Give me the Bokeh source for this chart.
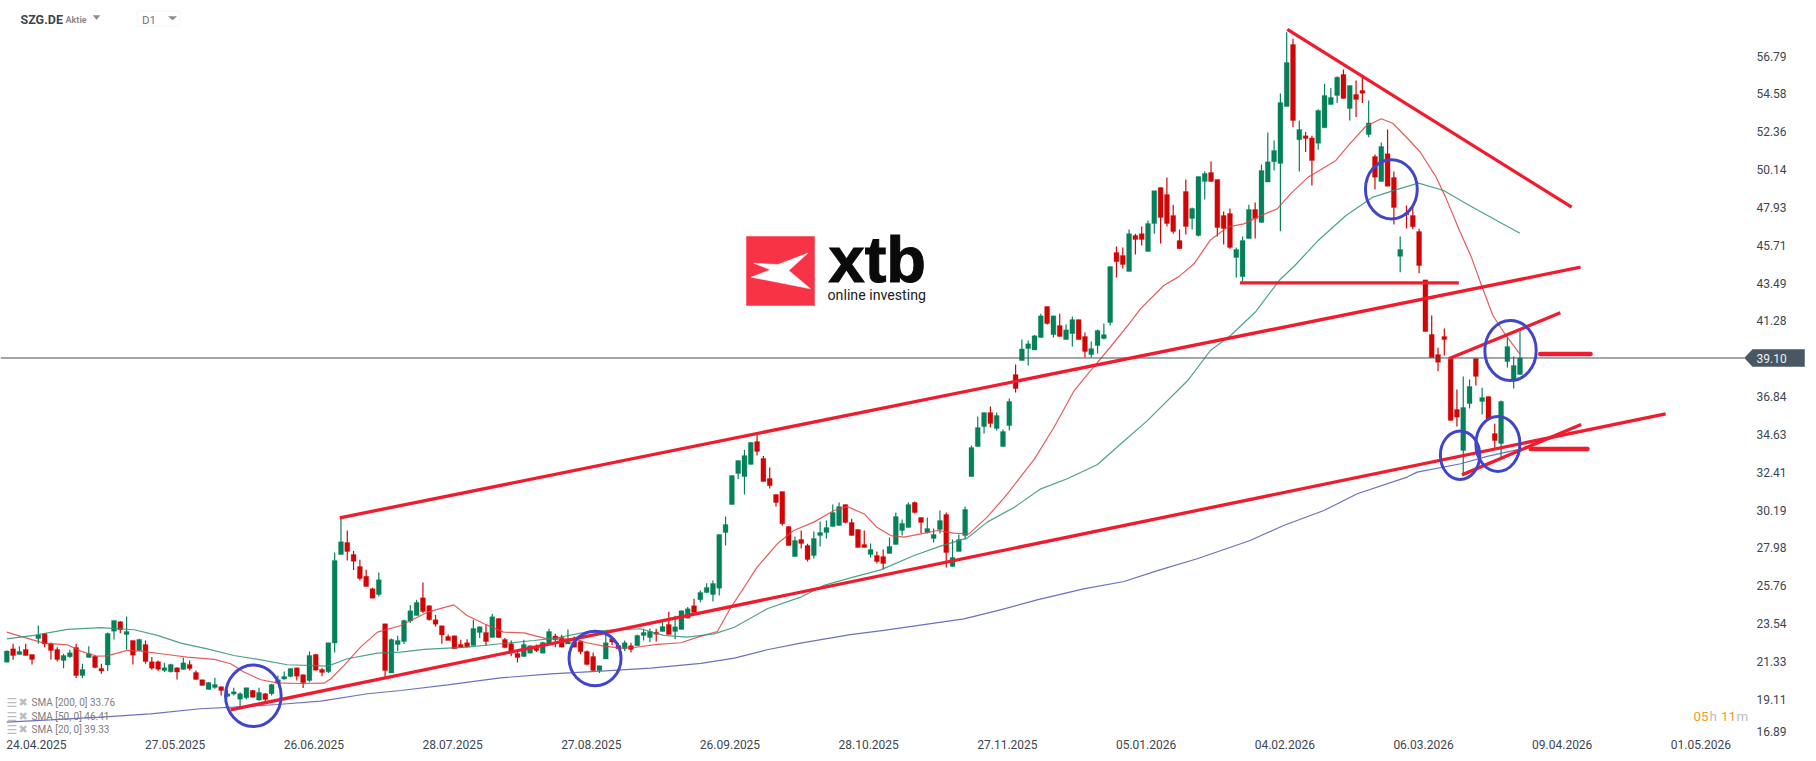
from bokeh.plotting import figure
from bokeh.embed import file_html
from bokeh.resources import INLINE
from bokeh.models import (
    ColumnDataSource,
    Label,
    PolyAnnotation,
    BoxAnnotation,
    FixedTicker,
    Range1d,
)

opens = [
    21.27, 22.05, 21.72, 22.02, 21.72, 22.66, 22.93, 22.35, 22.02, 21.37,
    21.59, 22.13, 20.49, 21.55, 21.62, 20.90, 21.10, 23.09, 23.64, 22.89,
    22.54, 21.96, 22.31, 21.29, 21.29, 20.78, 20.71, 20.94, 20.84, 21.14,
    20.67, 20.24, 19.67, 19.79, 19.83, 19.28, 19.40, 19.10, 19.18, 19.61,
    19.05, 19.42, 19.42, 20.04, 20.28, 20.43, 20.94, 20.53, 20.20, 21.72,
    20.84, 20.71, 22.39, 27.58, 28.29, 27.58, 26.88, 26.30, 25.57, 25.24,
    23.52, 20.63, 22.31, 22.48, 23.68, 24.01, 25.04, 24.58, 23.75, 23.40,
    22.78, 22.82, 22.31, 22.41, 22.25, 23.01, 23.01, 22.72, 23.83, 22.60,
    22.35, 21.78, 21.61, 21.80, 22.09, 21.80, 22.35, 22.80, 22.72, 22.33,
    22.45, 22.48, 21.90, 21.61, 20.78, 21.45, 22.64, 22.25, 22.05, 22.23,
    22.23, 22.84, 22.72, 23.03, 23.07, 23.48, 23.07, 23.19, 23.85, 24.58,
    24.93, 25.36, 25.24, 25.61, 28.87, 30.51, 32.33, 32.15, 32.86, 34.20,
    33.21, 32.04, 31.10, 31.27, 29.22, 27.46, 28.46, 28.11, 27.52, 28.69,
    28.87, 29.22, 29.28, 30.51, 29.46, 29.05, 28.17, 27.58, 27.52, 27.46,
    27.64, 28.17, 28.99, 29.16, 30.63, 29.75, 28.87, 28.52, 29.05, 29.92,
    26.88, 27.76, 28.69, 32.15, 33.91, 35.08, 35.90, 34.97, 33.91, 35.14,
    38.13, 38.95, 39.65, 39.57, 40.30, 42.12, 40.47, 41.00, 40.18, 40.53,
    41.35, 40.36, 39.30, 39.83, 40.24, 41.18, 45.28, 45.11, 44.17, 46.28,
    46.39, 45.34, 46.98, 49.09, 48.68, 47.45, 45.98, 48.86, 47.27, 46.28,
    49.44, 49.97, 49.56, 47.45, 47.57, 44.99, 43.87, 46.10, 47.80, 47.04,
    49.41, 50.60, 50.50, 53.84, 57.48, 51.90, 52.12, 52.00, 51.69, 52.59,
    53.96, 54.49, 55.72, 53.72, 54.55, 54.78, 52.20, 50.91, 49.45, 51.07,
    49.68, 45.06, 47.59, 47.45, 46.51, 43.68, 40.48, 39.30, 40.36, 39.05,
    36.08, 33.68, 36.43, 39.07, 36.55, 36.84, 34.67, 34.09, 38.89, 37.78, 38.13,
]
closes = [
    21.92, 21.66, 21.90, 21.66, 21.43, 22.86, 22.33, 21.96, 21.43, 21.66,
    21.82, 20.49, 20.84, 21.76, 20.96, 20.75, 22.95, 23.72, 23.17, 23.07,
    21.68, 22.60, 21.31, 20.92, 20.86, 20.94, 21.14, 20.69, 21.23, 20.90,
    20.26, 19.91, 20.08, 19.96, 19.61, 19.42, 19.53, 19.42, 19.77, 19.22,
    19.49, 19.08, 19.96, 20.24, 20.43, 20.90, 20.45, 20.06, 21.66, 20.80,
    20.67, 22.41, 27.23, 28.33, 27.76, 27.19, 26.18, 25.71, 25.02, 26.10,
    20.78, 22.60, 22.54, 23.72, 24.28, 24.77, 24.24, 23.75, 23.50, 22.86,
    22.54, 22.05, 22.13, 22.17, 23.25, 23.34, 22.48, 23.93, 22.72, 22.13,
    21.84, 21.55, 22.31, 22.23, 21.96, 22.43, 23.07, 22.58, 22.15, 22.48,
    22.15, 21.88, 21.14, 20.78, 21.06, 22.41, 22.45, 22.05, 22.41, 22.02,
    22.84, 23.01, 23.07, 22.91, 23.36, 22.89, 23.34, 24.28, 24.40, 24.18,
    25.36, 25.65, 25.88, 28.76, 29.34, 32.21, 33.09, 33.38, 34.15, 33.62,
    31.86, 31.62, 30.63, 29.38, 28.11, 28.40, 28.22, 27.29, 28.52, 28.87,
    29.16, 30.04, 30.39, 29.46, 28.69, 27.99, 27.99, 27.87, 27.17, 27.05,
    28.05, 29.81, 29.40, 30.51, 30.04, 29.46, 29.10, 28.75, 29.57, 27.70,
    27.40, 28.46, 30.22, 33.85, 35.02, 35.90, 35.26, 35.73, 34.79, 36.55,
    37.31, 39.63, 39.93, 40.40, 41.57, 41.12, 41.57, 40.36, 40.75, 41.35,
    40.18, 39.48, 39.65, 40.71, 40.47, 44.46, 44.75, 44.58, 46.39, 46.04,
    46.04, 46.98, 48.91, 47.33, 46.98, 46.51, 45.51, 46.81, 47.86, 49.74,
    49.91, 49.44, 46.75, 46.69, 45.57, 45.46, 45.98, 47.80, 47.27, 50.09,
    50.60, 51.26, 54.08, 56.42, 53.02, 52.49, 51.97, 50.67, 53.61, 54.49,
    54.37, 55.56, 54.31, 55.07, 54.25, 54.62, 52.88, 49.70, 51.50, 49.17,
    47.92, 45.46, 47.49, 46.80, 44.52, 40.65, 39.13, 38.85, 40.18, 35.44,
    35.63, 36.20, 37.43, 38.02, 36.78, 35.51, 34.26, 36.55, 39.77, 38.66, 39.10,
]
highs = [
    21.96, 22.35, 22.21, 22.35, 21.72, 23.42, 22.97, 22.43, 22.15, 21.76,
    22.00, 22.35, 21.18, 22.21, 21.66, 21.18, 23.01, 23.72, 23.68, 23.95,
    22.54, 22.64, 22.54, 21.57, 21.37, 21.23, 21.18, 20.98, 21.53, 21.37,
    20.78, 20.26, 20.10, 20.35, 19.85, 19.65, 19.77, 19.51, 19.79, 19.65,
    19.77, 19.46, 20.00, 20.49, 20.73, 20.92, 20.94, 20.55, 21.90, 21.76,
    20.94, 22.41, 27.70, 29.73, 28.99, 27.78, 27.27, 26.69, 25.63, 26.53,
    23.52, 22.66, 22.82, 23.75, 24.61, 24.93, 25.94, 24.61, 24.05, 23.42,
    22.89, 22.82, 22.58, 22.62, 23.75, 23.36, 23.46, 24.11, 23.83, 22.68,
    22.54, 21.96, 22.58, 22.25, 22.31, 22.47, 23.23, 22.93, 22.88, 23.19,
    22.78, 22.54, 21.96, 21.84, 21.08, 22.88, 22.78, 22.39, 22.54, 22.41,
    22.88, 23.23, 23.25, 23.23, 23.68, 24.22, 23.99, 24.30, 24.50, 24.99,
    25.47, 25.90, 26.06, 28.76, 29.81, 32.21, 33.09, 33.72, 34.18, 34.65,
    33.36, 32.68, 31.10, 31.27, 29.22, 28.64, 28.99, 28.21, 28.93, 29.51,
    29.57, 30.51, 30.63, 30.51, 29.67, 29.05, 28.99, 28.22, 27.76, 27.87,
    28.58, 30.04, 29.63, 30.63, 30.69, 29.75, 29.75, 29.10, 30.16, 30.04,
    28.46, 28.75, 30.39, 33.97, 35.67, 35.90, 36.26, 35.90, 34.91, 36.72,
    38.72, 40.18, 40.12, 40.45, 41.69, 42.12, 41.59, 41.69, 41.06, 41.53,
    41.35, 40.59, 40.06, 40.77, 41.12, 44.46, 45.63, 45.57, 46.63, 46.39,
    46.81, 47.16, 48.91, 49.09, 49.68, 48.09, 46.63, 49.56, 47.92, 49.74,
    50.03, 50.62, 49.56, 47.68, 47.86, 45.57, 46.22, 48.09, 48.21, 50.44,
    52.32, 51.85, 54.60, 58.20, 57.81, 53.02, 52.34, 52.12, 53.68, 55.17,
    54.93, 55.60, 56.01, 55.07, 55.36, 55.52, 54.19, 51.03, 51.73, 52.49,
    50.03, 46.22, 48.04, 48.04, 46.67, 43.68, 41.59, 39.70, 40.83, 39.11,
    37.25, 38.02, 37.84, 39.07, 37.35, 36.84, 35.24, 36.61, 40.36, 39.19, 40.65,
]
lows = [
    21.27, 21.41, 21.72, 21.66, 21.14, 22.35, 22.15, 21.43, 21.31, 20.92,
    21.53, 20.34, 20.34, 21.55, 20.92, 20.59, 20.75, 22.60, 22.97, 22.02,
    21.14, 21.92, 21.18, 20.82, 20.75, 20.69, 20.67, 20.26, 20.84, 20.78,
    20.26, 19.91, 19.67, 19.71, 19.32, 19.22, 19.32, 18.63, 19.10, 19.18,
    19.01, 18.91, 19.32, 20.00, 20.24, 20.39, 20.20, 19.75, 20.10, 20.78,
    20.45, 20.63, 21.84, 27.56, 27.23, 26.67, 26.06, 25.71, 25.02, 25.12,
    20.39, 20.63, 21.92, 22.33, 23.56, 24.01, 24.16, 23.72, 23.36, 22.35,
    22.54, 22.05, 22.13, 22.13, 22.25, 22.68, 22.23, 22.72, 22.68, 22.09,
    21.62, 21.25, 21.57, 21.80, 21.86, 21.80, 22.35, 22.15, 22.15, 22.33,
    22.15, 21.74, 21.08, 20.75, 20.63, 21.45, 22.27, 22.05, 21.92, 21.84,
    22.23, 22.54, 22.45, 22.48, 23.07, 22.89, 22.62, 23.19, 23.85, 24.18,
    24.79, 25.32, 24.83, 25.18, 28.11, 30.51, 32.00, 31.10, 32.86, 33.38,
    31.86, 31.45, 30.39, 29.28, 28.11, 27.46, 27.93, 27.17, 27.35, 28.05,
    28.52, 29.22, 29.28, 29.40, 28.69, 27.99, 27.99, 27.40, 27.05, 26.70,
    27.64, 28.17, 28.69, 29.16, 29.98, 28.81, 28.81, 28.28, 28.81, 26.82,
    26.88, 27.76, 28.46, 32.15, 33.91, 34.67, 35.02, 34.85, 33.91, 34.85,
    37.07, 38.95, 38.66, 39.57, 40.30, 41.06, 40.30, 40.36, 40.18, 39.77,
    40.18, 39.13, 39.13, 39.36, 40.18, 41.00, 43.82, 44.34, 44.17, 45.16,
    45.69, 45.34, 46.39, 45.81, 46.81, 46.39, 45.51, 46.34, 46.63, 46.22,
    48.39, 49.44, 46.22, 45.75, 45.51, 43.82, 43.58, 46.10, 46.10, 47.04,
    49.41, 50.09, 46.53, 53.84, 52.63, 50.03, 51.17, 49.21, 51.30, 52.59,
    53.96, 54.04, 54.31, 53.02, 53.22, 54.04, 52.04, 48.98, 49.45, 49.17,
    46.92, 44.13, 46.69, 46.65, 44.07, 40.65, 39.13, 38.33, 39.25, 35.44,
    35.08, 32.21, 36.14, 37.49, 35.79, 35.51, 33.79, 33.27, 38.54, 37.31, 38.13,
]

# moving averages, read at the bends only (bar number, price)
sma20_x = [
    0, 2.2, 5.9, 9.6, 11.7, 14.3, 15.9, 19.1, 21.2, 25.4, 28.6, 32.9, 35.5, 37.6, 40.3,
    42.9, 46.6, 50.3, 51.4, 53.5, 56.1, 58.8, 62.5, 66.7, 70.9, 73, 75.7, 78.8, 82, 85.7,
    90, 92, 94.7, 97.4, 99.5, 103.2, 106.9, 110, 112.7, 114.8, 116.9, 119, 122.2, 124.8,
    128, 131.2, 133.3, 136, 138, 140.2, 142.3, 145, 147.6, 150.2, 152.6, 155.5, 158.7,
    163, 166.1, 169.3, 171.9, 175, 178, 179.8, 183.5, 185.9, 188.3, 190.9, 193.6, 196.2,
    198.9, 201.5, 203.6, 206.4, 210.8, 213, 215.5, 218, 219.8, 222, 224.2, 226.7,
    228.2, 230.4, 232.3, 233.8, 235.7, 237.6, 240,
]
sma20_y = [
    23.03, 22.78, 22.39, 22.29, 21.92, 21.62, 21.64, 21.96, 21.92, 21.72, 21.57, 21.43, 21.18, 20.69, 20.24,
    20.06, 20.02, 20.04, 20.30, 21.08, 22.15, 23.03, 23.42, 24.20, 24.63, 24.01, 23.52, 23.03, 22.99, 22.64,
    22.64, 22.41, 22.21, 22.09, 22.13, 22.31, 22.41, 22.78, 23.07, 24.46, 25.63, 26.84, 28.21, 28.99,
    29.48, 30.16, 30.39, 29.96, 29.18, 28.69, 28.60, 28.79, 28.99, 28.83, 28.79, 29.77, 31.14,
    33.19, 35.04, 37.19, 38.36, 39.73, 41.10, 41.98, 43.35, 43.87, 44.62, 46.02, 46.77, 46.96,
    47.45, 47.84, 48.72, 49.70, 50.68, 51.65, 52.67, 53.12, 52.86, 52.04, 51.16, 49.70,
    48.53, 46.57, 45.00, 43.45, 41.59, 40.52, 39.33,
]
sma50_x = [
    0, 4.3, 9.6, 14.9, 20.2, 23.9, 27.6, 31.8, 36, 40.3, 44.5, 50.9, 54, 58.8, 62.5, 66.2, 69.9,
    73, 78.3, 83.6, 87.3, 91, 95.2, 100.5, 104.2, 107.9, 112.2, 115.4, 120.6, 125.9, 129.6, 133.8,
    138.6, 143.9, 148.1, 152.4, 155.5, 159.8, 164, 168.2, 173, 176.7, 180.9, 187.3, 190.9, 194.1,
    198, 201.8, 204.3, 208, 212.4, 216.7, 220.8, 223.9, 227.9, 231.7, 237.3, 240,
]
sma50_y = [
    22.64, 22.84, 23.19, 23.29, 23.17, 22.84, 22.39, 22.05, 21.66, 21.41, 21.12, 21.04, 21.47, 21.80, 21.86, 22.02, 22.09,
    22.15, 22.35, 22.54, 22.70, 22.97, 23.13, 23.23, 22.84, 22.74, 22.93, 23.32, 24.40, 25.08, 25.77, 26.21,
    26.68, 27.52, 28.07, 28.56, 29.48, 30.35, 31.43, 32.02, 32.86, 34.07, 35.43, 37.78, 39.54, 40.42,
    41.78, 43.64, 44.52, 45.99, 47.45, 48.53, 49.01, 49.35, 48.92, 48.10, 46.96, 46.41,
]
sma200_x = [
    0, 6.9, 14.9, 22.8, 30.7, 36, 42.9, 49.8, 57.2, 62.5, 69.9, 78.3, 86.3, 94.2, 102.1, 110.1,
    115.4, 120.6, 125.9, 133.8, 139.1, 151.8, 157.6, 163.4, 170.8, 177.2, 182.5, 188.8, 197.2,
    202.5, 208.9, 214.2, 222.1, 223.7, 230.6, 234.8, 240,
]
sma200_y = [
    17.76, 17.89, 18.05, 18.24, 18.54, 18.63, 18.79, 18.99, 19.42, 19.61, 19.94, 20.35, 20.59, 20.75, 20.92, 21.20,
    21.51, 22.00, 22.39, 22.89, 23.13, 23.81, 24.34, 24.92, 25.57, 26.00, 26.64, 27.33, 28.40,
    29.28, 30.16, 31.14, 32.12, 32.41, 32.90, 33.33, 33.76,
]

# drawn trend lines: bar number and price at both ends
trend_x0 = [35.5, 52.8, 203.1, 195.6, 228.7, 230.8]
trend_y0 = [18.48, 29.73, 58.36, 43.50, 39.05, 32.25]
trend_x1 = [263.1, 249.6, 248.2, 230.3, 246.4, 249.7]
trend_y1 = [35.83, 44.42, 47.94, 43.50, 41.75, 35.20]
mark_x0 = [243.2, 241.7]
mark_x1 = [251.2, 250.7]
mark_y = [39.34, 33.77]

ring_x = [39.1, 93.3, 219.6, 238.5, 230.5, 236.5]
ring_y = [19.30, 21.49, 48.99, 39.54, 33.40, 34.06]
ring_w = [8.82, 8.25, 8.22, 8.15, 6.25, 6.98]
ring_h = [3.61, 3.20, 3.48, 3.52, 2.84, 3.22]

date_ticks = [4.7, 26.7, 48.7, 70.7, 92.7, 114.7, 136.7, 158.7, 180.7, 202.7, 224.7, 246.7, 268.7]
date_labels = [
    "24.04.2025", "27.05.2025", "26.06.2025", "28.07.2025", "27.08.2025", "26.09.2025", "28.10.2025",
    "27.11.2025", "05.01.2026", "04.02.2026", "06.03.2026", "09.04.2026", "01.05.2026",
]
price_ticks = [
    56.79, 54.58, 52.36, 50.14, 47.93, 45.71, 43.49, 41.28, 36.84, 34.63, 32.41, 30.19, 27.98, 25.76, 23.54, 21.33, 19.11,
    17.22,
]
price_labels = [
    "56.79", "54.58", "52.36", "50.14", "47.93", "45.71", "43.49", "41.28", "36.84", "34.63", "32.41", "30.19", "27.98",
    "25.76", "23.54", "21.33", "19.11", "16.89",
]
last_price = 39.10
legend_rows = ["SMA [200, 0] 33.76", "SMA [50, 0] 46.41", "SMA [20, 0] 39.33"]

GREEN = "#06805a"
RED = "#d00606"
TREND = "#f01c2e"
RING = "#4146c8"
TEXT = "#3c4650"
FRAME_H = 737
AXIS_AT = 275.6  # bar number where the price scale starts

source = ColumnDataSource(
    data=dict(
        x=list(range(len(opens))),
        high=highs,
        low=lows,
        top=[max(o, c) for o, c in zip(opens, closes)],
        bottom=[min(o, c) for o, c in zip(opens, closes)],
        color=[GREEN if c >= o else RED for o, c in zip(opens, closes)],
    )
)

p = figure(
    width=1816,
    height=761,
    x_range=Range1d(-1.0, 287.03),
    y_range=Range1d(16.855, 60.055),
    y_axis_location="right",
    toolbar_location=None,
    tools="",
    output_backend="svg",
    min_border_left=0,
    min_border_top=0,
    min_border_right=0,
    min_border_bottom=24,
)
p.outline_line_color = None
p.grid.grid_line_color = None
p.background_fill_color = "white"

p.xaxis.ticker = FixedTicker(ticks=date_ticks)
p.xaxis.major_label_overrides = dict(zip(date_ticks, date_labels))
p.yaxis.ticker = FixedTicker(ticks=price_ticks)
p.yaxis.major_label_overrides = dict(zip(price_ticks, price_labels))
p.yaxis.fixed_location = AXIS_AT
p.axis.axis_line_color = None
p.axis.major_tick_line_color = None
p.axis.minor_tick_line_color = None
p.axis.major_tick_out = 0
p.axis.major_tick_in = 0
p.axis.major_label_text_font = "Roboto"
p.axis.major_label_text_font_size = "12px"
p.axis.major_label_text_color = TEXT
p.xaxis.major_label_standoff = 2
p.yaxis.major_label_standoff = 12

p.segment("x", "low", "x", "high", color="color", line_width=1.2, source=source)
p.vbar(x="x", bottom="bottom", top="top", width=0.78, fill_color="color", line_color="color", line_width=0.3, source=source)

p.line(sma20_x, sma20_y, line_color="#e2403f", line_width=1.2, line_alpha=0.85)
p.line(sma50_x, sma50_y, line_color="#2f9273", line_width=1.2, line_alpha=0.85)
p.line(sma200_x, sma200_y, line_color="#5158b4", line_width=1.2, line_alpha=0.85)

p.segment([-1.0], [last_price], [AXIS_AT], [last_price], line_color="#45535e", line_width=1)

p.segment(trend_x0, trend_y0, trend_x1, trend_y1, line_color=TREND, line_width=3.3)
p.segment(mark_x0, mark_y, mark_x1, mark_y, line_color=TREND, line_width=4.5, line_cap="round")
p.ellipse(ring_x, ring_y, width=ring_w, height=ring_h, fill_color=None, line_color=RING, line_width=3)


def sy(y):
    return FRAME_H - y


def note(x, y, text, size, color, style="normal", font="Roboto", alpha=1.0, outline=None):
    p.add_layout(
        Label(
            x=x,
            y=sy(y),
            x_units="screen",
            y_units="screen",
            text=text,
            text_font=font,
            text_font_size=size,
            text_font_style=style,
            text_color=color,
            text_alpha=alpha,
            text_baseline="middle",
            text_align="left",
            text_outline_color=outline,
        )
    )


def shape(xs, ys, color):
    p.add_layout(
        PolyAnnotation(
            xs=xs,
            ys=[sy(y) for y in ys],
            xs_units="screen",
            ys_units="screen",
            fill_color=color,
            fill_alpha=1,
            line_color=color,
            line_alpha=1,
            line_width=0.5,
        )
    )


# price tag on the right
shape([1744, 1752, 1804, 1804, 1752], [357.4, 349, 349, 366, 366], "#485761")
note(1756, 358, f"{last_price:.2f}", "12px", "#eef0f1")

# header
note(20, 19, "SZG.DE", "12.5px", TEXT, style="bold")
note(65, 19.5, "Aktie", "9px", "#8c8c8c", style="bold")
shape([92.7, 99.3, 96], [15, 15, 19], "#8c8c8c")
p.add_layout(
    BoxAnnotation(
        left=136.5, right=179.5, top=sy(10.5), bottom=sy(25.5),
        left_units="screen", right_units="screen", top_units="screen", bottom_units="screen",
        fill_color="white", fill_alpha=1, line_color="#dddddd", line_width=1, border_radius=2,
    )
)
note(141.5, 19.5, "D1", "11.5px", "#777777")
shape([168, 176, 172], [16, 16, 19.5], "#8c8c8c")

# logo
shape([746, 814, 814, 746], [236, 236, 305, 305], "#f93346")
shape(
    [753.3, 777.3, 807.3, 788.3, 810, 771.7, 750.7, 770],
    [262.7, 264, 252.7, 270, 288.3, 280.7, 276.7, 269.3],
    "white",
)
note(828, 259, "xtb", "65px", "#0a0a0a", style="bold", font="Liberation Sans", outline="#0a0a0a")
note(827, 294, "online investing", "14.2px", "#222222", font="Roboto")

# indicator list, bottom left
for row_y, row in zip([702, 716, 729], legend_rows):
    note(6, row_y, "\u2630", "12px", "#bdbdbd", font="DejaVu Sans")
    note(18, row_y, "\u2716", "11px", "#bdbdbd", font="DejaVu Sans")
    note(31, row_y, row, "10px", "#7e7e7e")

# session timer
note(1693, 716, "05", "13.4px", "#f7981d")
note(1709, 716, "h", "13.4px", "#bdbdbd")
note(1720.5, 716, "11", "13.4px", "#f7981d")
note(1736, 716, "m", "13.4px", "#bdbdbd")

open("out.html", "w").write(file_html(p, INLINE))
